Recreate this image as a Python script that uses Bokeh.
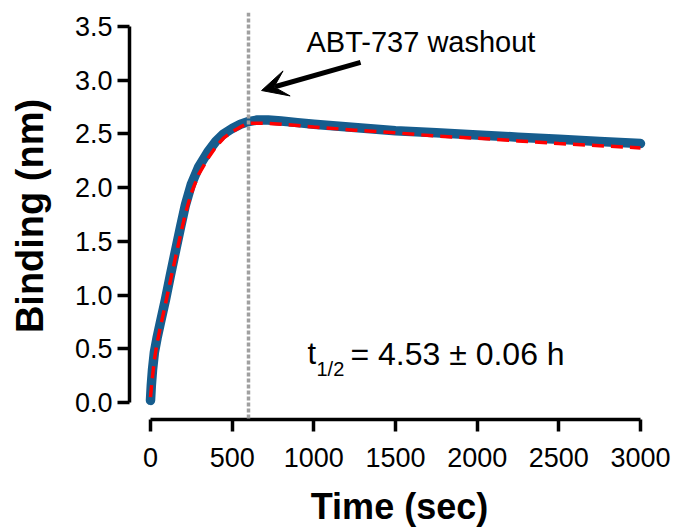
from bokeh.plotting import figure
from bokeh.models import FixedTicker, Range1d, Label, Arrow, VeeHead, Span
from bokeh.embed import file_html
from bokeh.resources import INLINE

# Measured binding trace (sec, nm)
time_data = [0, 5, 12, 24, 40, 60, 92, 120, 150, 185, 214, 250, 294, 355, 400,
             447, 500, 551, 600, 655, 720, 800, 900, 1000, 1250, 1500, 1750,
             2000, 2250, 2500, 2750, 3000]
binding_data = [0.02, 0.16, 0.30, 0.47, 0.60, 0.74, 0.96, 1.17, 1.39, 1.64, 1.84,
                2.03, 2.19, 2.34, 2.43, 2.50, 2.55, 2.59, 2.615, 2.63, 2.63, 2.62,
                2.605, 2.59, 2.56, 2.53, 2.51, 2.49, 2.47, 2.45, 2.43, 2.41]

# Fitted curve (sec, nm)
time_fit = [0, 12, 24, 40, 60, 92, 120, 150, 185, 214, 250, 294, 355, 400, 447,
            500, 551, 600, 700, 800, 1000, 1250, 1500, 1750, 2000, 2250, 2500,
            2750, 3000]
binding_fit = [0.05, 0.24, 0.40, 0.55, 0.70, 0.92, 1.12, 1.33, 1.57, 1.76, 1.95,
               2.12, 2.28, 2.38, 2.46, 2.52, 2.565, 2.60, 2.60, 2.59, 2.565, 2.535,
               2.51, 2.48, 2.46, 2.435, 2.41, 2.39, 2.37]

x_ticks = [0, 500, 1000, 1500, 2000, 2500, 3000]
x_tick_labels = ["0", "500", "1000", "1500", "2000", "2500", "3000"]
y_ticks = [0.0, 0.5, 1.0, 1.5, 2.0, 2.5, 3.0, 3.5]
y_tick_labels = ["0.0", "0.5", "1.0", "1.5", "2.0", "2.5", "3.0", "3.5"]

washout_time = 600
washout_label = "ABT-737 washout"
arrow_tail = (1286, 3.165)
arrow_tip = (680, 2.904)
label_pos = (955, 3.355)
thalf_pos = (961, 0.455)
thalf_text = "= 4.53 ± 0.06 h"

FONT = "Liberation Sans"

p = figure(width=686, height=529, output_backend="svg", toolbar_location=None,
           x_range=Range1d(-128.6, 3177.6), y_range=Range1d(-0.158, 3.63),
           min_border_left=129, min_border_right=17, min_border_top=12,
           min_border_bottom=110)
p.outline_line_color = None
p.xgrid.visible = False
p.ygrid.visible = False
p.background_fill_color = "white"
p.border_fill_color = "white"

# Data and fit
p.line(time_data, binding_data, line_color="#165d8e", line_width=9.5, line_cap="round",
       line_join="round")
p.line(time_fit, binding_fit, line_color="#ff0000", line_width=3.5, line_dash="12 7")

# Washout marker
p.add_layout(Span(location=washout_time, dimension="height", line_color="#a0a0a0",
                  line_width=3.5, line_dash="4 2"))
p.add_layout(Arrow(end=VeeHead(size=26, fill_color="black", line_color="black"),
                   x_start=arrow_tail[0], y_start=arrow_tail[1],
                   x_end=arrow_tip[0], y_end=arrow_tip[1],
                   line_width=5, line_color="black"))
p.add_layout(Label(x=label_pos[0], y=label_pos[1], text=washout_label,
                   text_font=FONT, text_font_size="29px", text_color="black",
                   text_baseline="alphabetic"))

# t1/2 annotation
p.add_layout(Label(x=thalf_pos[0], y=thalf_pos[1], text="t", text_color="black",
                   text_font=FONT, text_font_size="31px", text_baseline="alphabetic"))
p.add_layout(Label(x=thalf_pos[0], y=thalf_pos[1], x_offset=9, y_offset=-15, text="1/2",
                   text_color="black",
                   text_font=FONT, text_font_size="20px", text_baseline="alphabetic"))
p.add_layout(Label(x=thalf_pos[0], y=thalf_pos[1], x_offset=43, text=thalf_text,
                   text_color="black",
                   text_font=FONT, text_font_size="32px", text_baseline="alphabetic"))

# Axes
for ax in (p.xaxis[0], p.yaxis[0]):
    ax.axis_line_width = 3.5
    ax.axis_line_color = "black"
    ax.major_tick_line_width = 3.5
    ax.major_tick_line_color = "black"
    ax.major_tick_in = 0
    ax.major_tick_out = 12
    ax.minor_tick_line_color = None
    ax.major_label_text_font = FONT
    ax.major_label_text_font_size = "27px"
    ax.major_label_text_color = "black"
    ax.axis_label_text_font = FONT
    ax.axis_label_text_font_style = "bold"
    ax.axis_label_text_color = "black"

p.xaxis.ticker = FixedTicker(ticks=x_ticks)
p.xaxis.major_label_overrides = dict(zip(x_ticks, x_tick_labels))
p.xaxis.bounds = (x_ticks[0], x_ticks[-1])
p.xaxis.axis_label = "Time (sec)"
p.xaxis.axis_label_text_font_size = "36px"
p.xaxis.major_label_standoff = 16
p.xaxis.axis_label_standoff = 16

p.yaxis.ticker = FixedTicker(ticks=y_ticks)
p.yaxis.major_label_overrides = dict(zip(y_ticks, y_tick_labels))
p.yaxis.bounds = (y_ticks[0], y_ticks[-1])
p.yaxis.axis_label = "Binding (nm)"
p.yaxis.axis_label_text_font_size = "38px"
p.yaxis.major_label_standoff = 5
p.yaxis.axis_label_standoff = 21

open("out.html", "w").write(file_html(p, INLINE))
